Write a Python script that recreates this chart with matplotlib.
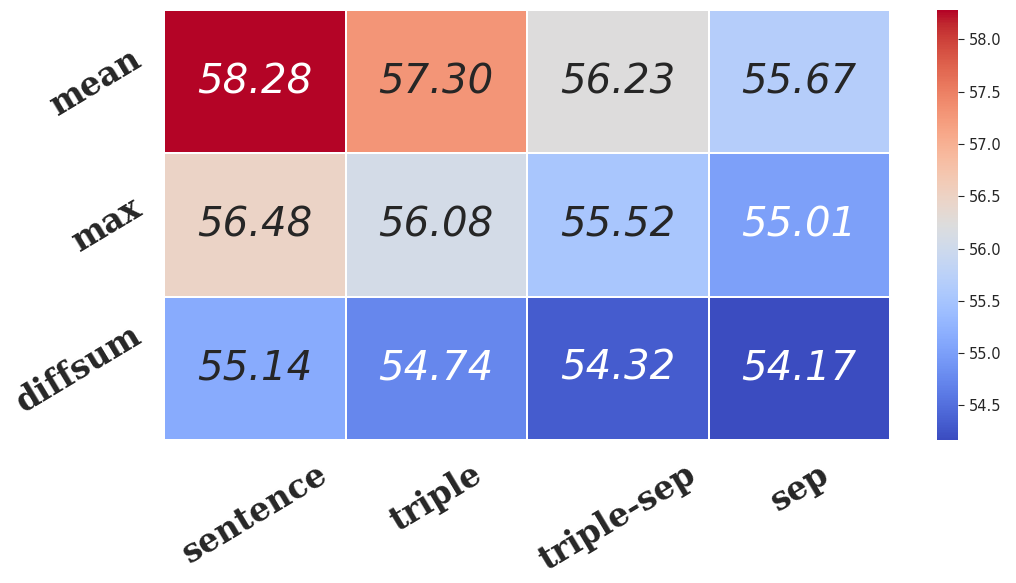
import numpy as np
import matplotlib
matplotlib.use('Agg')
import matplotlib.pyplot as plt
import seaborn as sns

rows = ['mean', 'max', 'diffsum']
cols = ['sentence', 'triple', 'triple-sep', 'sep']
vals = [
    [58.28, 57.30, 56.23, 55.67],
    [56.48, 56.08, 55.52, 55.01],
    [55.14, 54.74, 54.32, 54.17],
]

W, H = 1016, 583
fig = plt.figure(figsize=(W / 100, H / 100), dpi=100)
ax = fig.add_axes([164 / W, 1 - 440 / H, (890 - 164) / W, (440 - 10) / H])
cax = fig.add_axes([937 / W, 1 - 440 / H, (958 - 937) / W, (440 - 10) / H])

sns.heatmap(np.array(vals), ax=ax, cbar_ax=cax, cmap='coolwarm',
            annot=True, fmt='.2f', linewidths=1.2, linecolor='white',
            annot_kws={'fontsize': 29, 'fontstyle': 'italic'},
            xticklabels=cols, yticklabels=rows)

ax.tick_params(length=0)
ax.set_xticklabels(cols, rotation=31, ha='center',
                   fontsize=23.5, fontweight='bold', family='DejaVu Serif',
                   color='#262626')
ax.set_yticklabels(rows, rotation=31, ha='right', va='center',
                   fontsize=23.5, fontweight='bold', family='DejaVu Serif',
                   color='#262626')
ax.tick_params(axis='x', pad=13)
ax.tick_params(axis='y', pad=12)

cax.tick_params(labelsize=10.5, colors='#262626', length=4)
cax.set_yticks([54.5, 55.0, 55.5, 56.0, 56.5, 57.0, 57.5, 58.0])
for s in cax.spines.values():
    s.set_visible(False)

fig.savefig('out.png', dpi=100)
